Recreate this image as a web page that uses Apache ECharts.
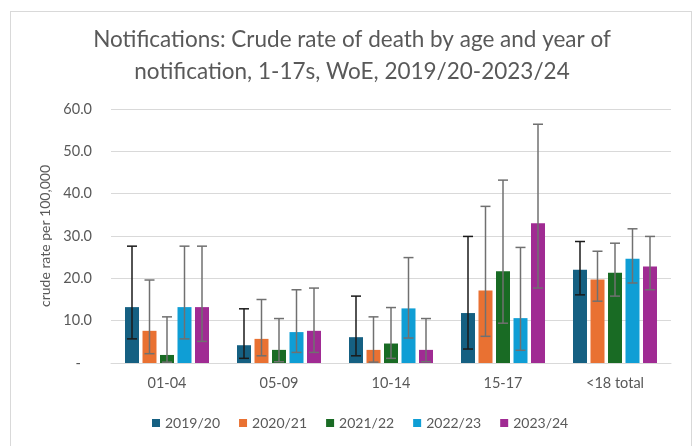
<!DOCTYPE html>
<html>
<head>
<meta charset="utf-8">
<script src="https://cdn.jsdelivr.net/npm/echarts@6/dist/echarts.min.js"></script>
<style>
html,body{margin:0;padding:0;background:#fff;}
#frame{position:absolute;left:10px;top:11px;width:682px;height:450px;border:1px solid #d9d9d9;box-sizing:border-box;}
#chart{position:absolute;left:0;top:0;width:694px;height:446px;}
</style>
</head>
<body>
<div id="frame"></div>
<div id="chart"></div>
<script>
const categories = ['01-04', '05-09', '10-14', '15-17', '<18 total'];
const years = ['2019/20', '2020/21', '2021/22', '2022/23', '2023/24'];
const colors = ['#156082', '#E97132', '#196B24', '#0F9ED5', '#A02B93'];
const yTicks = [0, 10, 20, 30, 40, 50, 60];

const rate2019 = [13.2, 4.2, 6.1, 11.8, 22.0];
const rate2020 = [7.6, 5.7, 3.1, 17.1, 19.7];
const rate2021 = [1.9, 3.1, 4.6, 21.7, 21.3];
const rate2022 = [13.2, 7.3, 12.9, 10.6, 24.6];
const rate2023 = [13.2, 7.6, 3.1, 33.0, 22.8];

const low2019 = [5.7, 1.1, 1.7, 3.3, 16.1];
const high2019 = [27.6, 12.8, 15.8, 29.9, 28.7];
const low2020 = [2.2, 1.7, 0.2, 6.3, 14.6];
const high2020 = [19.6, 15.0, 10.9, 37.0, 26.4];
const low2021 = [0.2, 0.3, 1.1, 9.4, 15.8];
const high2021 = [10.9, 10.5, 13.1, 43.2, 28.3];
const low2022 = [5.7, 2.5, 5.9, 3.0, 18.9];
const high2022 = [27.6, 17.3, 24.9, 27.3, 31.7];
const low2023 = [5.1, 2.5, 0.3, 17.7, 17.3];
const high2023 = [27.6, 17.7, 10.5, 56.4, 29.9];

const rates = [rate2019, rate2020, rate2021, rate2022, rate2023];
const lows = [low2019, low2020, low2021, low2022, low2023];
const highs = [high2019, high2020, high2021, high2022, high2023];
const errColors = ['#1a1a1a', '#707070', '#707070', '#707070', '#707070'];

const FONT = 'Lato';
const TXT = '#595959';

const nSeries = years.length;
const series = [];
years.forEach((y, i) => {
  series.push({
    name: y,
    type: 'bar',
    data: rates[i],
    barGap: '25%',
    barCategoryGap: '25%',
    itemStyle: { color: colors[i] },
    z: 2
  });
});
years.forEach((y, i) => {
  series.push({
    name: y + ' err',
    type: 'custom',
    data: categories.map((c, k) => [k, lows[i][k], highs[i][k]]),
    encode: { x: 0, y: [1, 2] },
    z: 5,
    silent: true,
    renderItem: function (params, api) {
      const k = api.value(0);
      const band = api.size([1, 0])[0];
      const w = band * 0.75 / (nSeries + (nSeries - 1) * 0.25);
      const center = api.coord([k, 0])[0];
      const x = center - band * 0.75 / 2 + i * w * 1.25 + w / 2;
      const yl = api.coord([k, api.value(1)])[1];
      const yh = api.coord([k, api.value(2)])[1];
      const cap = 5;
      const style = { stroke: errColors[i], lineWidth: 1.5, fill: null };
      return {
        type: 'group',
        children: [
          { type: 'line', shape: { x1: x, y1: yl, x2: x, y2: yh }, style: style },
          { type: 'line', shape: { x1: x - cap, y1: yh, x2: x + cap, y2: yh }, style: style },
          { type: 'line', shape: { x1: x - cap, y1: yl, x2: x + cap, y2: yl }, style: style }
        ]
      };
    }
  });
});

const chart = echarts.init(document.getElementById('chart'), null, { renderer: 'canvas' });
chart.setOption({
  animation: false,
  backgroundColor: 'transparent',
  textStyle: { fontFamily: FONT },
  title: {
    text: 'Notifications: Crude rate of death by age and year of\nnotification, 1-17s, WoE, 2019/20-2023/24',
    left: 347,
    textAlign: 'center',
    top: 19,
    textStyle: { fontFamily: FONT, fontSize: 22.5, fontWeight: 'normal', color: TXT, lineHeight: 32 }
  },
  legend: {
    data: years,
    left: 147,
    top: 411,
    itemWidth: 8,
    itemHeight: 8,
    itemGap: 19,
    icon: 'rect',
    textStyle: { fontFamily: FONT, fontSize: 14, color: TXT }
  },
  grid: { left: 111, right: 23, top: 109, bottom: 83 },
  xAxis: {
    type: 'category',
    data: categories,
    axisLine: { lineStyle: { color: '#d9d9d9', width: 1 } },
    axisTick: { show: false },
    axisLabel: { color: TXT, fontSize: 14.5, fontFamily: FONT, margin: 13 }
  },
  yAxis: {
    type: 'value',
    min: yTicks[0],
    max: yTicks[yTicks.length - 1],
    interval: 10,
    name: 'crude rate per 100,000',
    nameLocation: 'middle',
    nameGap: 58,
    nameTextStyle: { color: TXT, fontSize: 14, fontFamily: FONT },
    axisLine: { show: false },
    axisTick: { show: false },
    splitLine: { lineStyle: { color: '#d9d9d9', width: 1 } },
    axisLabel: {
      color: TXT, fontSize: 14.5, fontFamily: FONT, margin: 19,
      formatter: v => v === 0 ? '-   ' : v.toFixed(1)
    }
  },
  series: series
});
</script>
</body>
</html>
